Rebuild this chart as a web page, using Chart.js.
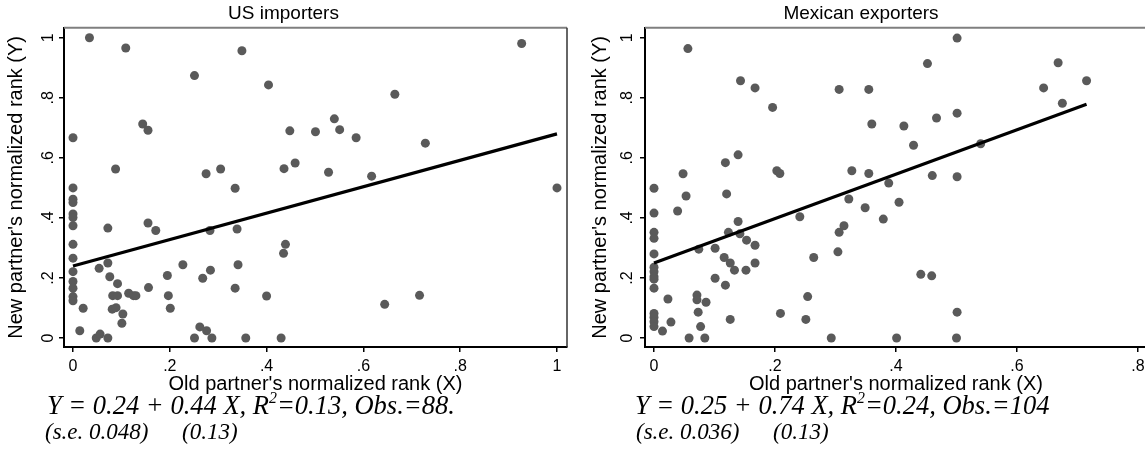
<!DOCTYPE html>
<html lang="en">
<head>
    <meta charset="UTF-8">
    <title>Old vs new partner rank</title>
    <script src="https://cdn.jsdelivr.net/npm/chart.js"></script>
    <style>
        html, body { margin: 0; padding: 0; background: #fff; overflow: hidden; }
        body { width: 1145px; height: 470px; position: relative; }
        .panel { position: absolute; top: 0; height: 400px; }
        #usChart { left: 0; width: 575px; }
        #mxChart { left: 575px; width: 580px; }
        .eq {
            position: absolute;
            font-family: 'Liberation Serif', 'Times New Roman', serif;
            font-style: italic;
            color: #000;
            white-space: pre;
        }
        .eq1 { font-size: 26.5px; top: 390px; }
        .eq2 { font-size: 23px; top: 419px; }
        .eq2 span { position: absolute; top: 0; }
        .eq sup { font-size: 60%; vertical-align: 0; position: relative; top: -0.7em; }
    </style>
</head>
<body>
    <canvas id="usChart" class="panel" width="575" height="400"></canvas>
    <canvas id="mxChart" class="panel" width="580" height="400"></canvas>

    <div class="eq eq1" style="left:47px">Y = 0.24 + 0.44 X, R<sup>2</sup>=0.13, Obs.=88.</div>
    <div class="eq eq2" style="left:45px"><span style="left:0">(s.e. 0.048)</span><span style="left:137px">(0.13)</span></div>
    <div class="eq eq1" style="left:635px">Y = 0.25 + 0.74 X, R<sup>2</sup>=0.24, Obs.=104</div>
    <div class="eq eq2" style="left:636px"><span style="left:0">(s.e. 0.036)</span><span style="left:137px">(0.13)</span></div>

    <script>
        // US importers: old partner rank (x) vs new partner rank (y)
        const usX = [0, 0, 0, 0, 0, 0, 0, 0, 0, 0, 0, 0, 0, 0,
            0.034, 0.109, 0.251, 0.349, 0.404, 0.144, 0.155, 0.448, 0.088, 0.275,
            0.305, 0.335, 0.436, 0.459, 0.927, 0.665, 0.54, 0.501, 0.551, 0.585,
            0.728, 0.528, 0.617, 1.0, 0.021, 0.014, 0.048, 0.056, 0.072, 0.054,
            0.072, 0.072, 0.076, 0.081, 0.089, 0.082, 0.092, 0.092, 0.103, 0.101,
            0.115, 0.125, 0.130, 0.155, 0.171, 0.156, 0.195, 0.197, 0.201, 0.227,
            0.251, 0.262, 0.268, 0.276, 0.283, 0.284, 0.287, 0.335, 0.339, 0.341,
            0.357, 0.4, 0.43, 0.439, 0.435, 0.644, 0.716];
        const usY = [0.667, 0.5, 0.462, 0.451, 0.413, 0.401, 0.374, 0.312, 0.266, 0.221, 0.188, 0.166, 0.138, 0.124,
            1.0, 0.966, 0.874, 0.957, 0.843, 0.713, 0.692, 0.69, 0.563, 0.547,
            0.563, 0.499, 0.564, 0.583, 0.981, 0.812, 0.73, 0.687, 0.694, 0.667,
            0.649, 0.552, 0.539, 0.5, 0.099, 0.024, 0, 0.013, 0, 0.232,
            0.366, 0.25, 0.204, 0.096, 0.101, 0.141, 0.141, 0.181, 0.08, 0.049,
            0.149, 0.141, 0.141, 0.383, 0.358, 0.168, 0.208, 0.141, 0.099, 0.244,
            0, 0.037, 0.199, 0.024, 0.358, 0.226, 0, 0.166, 0.363, 0.244,
            0, 0.14, 0, 0.312, 0.282, 0.112, 0.142];
        const usFitX = [0, 1];
        const usFitY = [0.24, 0.68];

        // Mexican exporters
        const mxX = [0, 0, 0, 0, 0, 0, 0, 0, 0, 0, 0, 0, 0, 0,
            0.056, 0.143, 0.167, 0.196, 0.139, 0.118, 0.048, 0.053, 0.12, 0.203,
            0.208, 0.306, 0.355, 0.36, 0.327, 0.355, 0.322, 0.501, 0.452, 0.668,
            0.715, 0.644, 0.675, 0.413, 0.467, 0.501, 0.429, 0.54, 0.388, 0.46,
            0.501, 0.405, 0.349, 0.379, 0.014, 0.023, 0.028, 0.039, 0.058, 0.071,
            0.071, 0.073, 0.074, 0.077, 0.084, 0.086, 0.101, 0.101, 0.116, 0.118,
            0.123, 0.126, 0.126, 0.133, 0.139, 0.142, 0.152, 0.153, 0.167, 0.167,
            0.209, 0.241, 0.251, 0.254, 0.264, 0.293, 0.304, 0.306, 0.314, 0.441,
            0.459, 0.501, 0.401, 0.5];
        const mxY = [0.499, 0.416, 0.352, 0.332, 0.28, 0.236, 0.221, 0.204, 0.196, 0.166, 0.082, 0.069, 0.054, 0.038,
            0.964, 0.857, 0.833, 0.768, 0.61, 0.584, 0.547, 0.473, 0.48, 0.557,
            0.548, 0.828, 0.828, 0.713, 0.557, 0.548, 0.463, 0.999, 0.914, 0.917,
            0.857, 0.833, 0.782, 0.706, 0.733, 0.749, 0.642, 0.647, 0.516, 0.541,
            0.537, 0.452, 0.434, 0.396, 0.023, 0.13, 0.053, 0.423, 0, 0.143,
            0.127, 0.086, 0.296, 0.038, 0, 0.119, 0.299, 0.199, 0.268, 0.176,
            0.352, 0.25, 0.062, 0.226, 0.388, 0.347, 0.226, 0.326, 0.309, 0.25,
            0.082, 0.404, 0.062, 0.138, 0.268, 0, 0.287, 0.352, 0.374, 0.212,
            0.207, 0.086, 0, 0];
        const mxFitX = [0, 0.715];
        const mxFitY = [0.25, 0.779];

        const yTicks = [0, 0.2, 0.4, 0.6, 0.8, 1];
        const yTickLabels = ['0', '.2', '.4', '.6', '.8', '1'];
        const usXTicks = [0, 0.2, 0.4, 0.6, 0.8, 1];
        const usXTickLabels = ['0', '.2', '.4', '.6', '.8', '1'];
        const mxXTicks = [0, 0.2, 0.4, 0.6, 0.8];
        const mxXTickLabels = ['0', '.2', '.4', '.6', '.8'];

        Chart.defaults.font.family = "'Liberation Sans', Arial, Helvetica, sans-serif";
        Chart.defaults.color = '#000';

        // top and right edges of the plot region
        const frame = {
            id: 'frame',
            afterDraw(chart) {
                const { ctx, chartArea: a } = chart;
                ctx.save();
                ctx.strokeStyle = '#7f7f7f';
                ctx.lineWidth = 2;
                ctx.beginPath();
                ctx.moveTo(a.left, a.top);
                ctx.lineTo(a.right, a.top);
                ctx.stroke();
                ctx.strokeStyle = '#333';
                ctx.lineWidth = 1.5;
                ctx.beginPath();
                ctx.moveTo(a.right, a.top);
                ctx.lineTo(a.right, a.bottom);
                ctx.stroke();
                ctx.restore();
            }
        };

        function toPoints(xs, ys) {
            return xs.map((x, i) => ({ x: x, y: ys[i] }));
        }

        function makePanel(id, p) {
            const ctx = document.getElementById(id).getContext('2d');
            return new Chart(ctx, {
                type: 'scatter',
                data: {
                    datasets: [{
                        data: toPoints(p.fitX, p.fitY),
                        showLine: true,
                        borderColor: '#000',
                        borderWidth: 3.2,
                        pointRadius: 0
                    }, {
                        data: toPoints(p.x, p.y),
                        pointRadius: 4.5,
                        pointBackgroundColor: '#5a5a5a',
                        pointBorderWidth: 0
                    }]
                },
                options: {
                    responsive: false,
                    animation: false,
                    clip: false,
                    layout: { padding: { left: 0, right: 8, top: 0, bottom: 0 } },
                    plugins: {
                        legend: { display: false },
                        tooltip: { enabled: false },
                        title: {
                            display: true,
                            text: p.title,
                            font: { size: 19, weight: 'normal' },
                            color: '#000',
                            padding: { top: 2, bottom: 3 }
                        }
                    },
                    scales: {
                        x: {
                            type: 'linear',
                            min: p.xMin,
                            max: p.xMax,
                            afterBuildTicks: s => { s.ticks = p.xTicks.map(v => ({ value: v })); },
                            afterFit: s => { s.height = 53; },
                            ticks: {
                                callback: v => p.xTickLabels[p.xTicks.indexOf(v)],
                                font: { size: 16 },
                                color: '#000',
                                padding: 5,
                                maxRotation: 0
                            },
                            grid: { drawOnChartArea: false, drawTicks: true, tickLength: 5, color: '#000', lineWidth: 1.5 },
                            border: { color: '#000', width: 2 },
                            title: {
                                display: true,
                                text: "Old partner's normalized rank (X)",
                                font: { size: 20 },
                                color: '#000',
                                padding: { top: 0, bottom: 3.5 }
                            }
                        },
                        y: {
                            type: 'linear',
                            min: -0.03,
                            max: 1.0333,
                            afterBuildTicks: s => { s.ticks = yTicks.map(v => ({ value: v })); },
                            afterFit: s => { s.width = p.yWidth; },
                            ticks: {
                                callback: v => yTickLabels[yTicks.indexOf(v)],
                                font: { size: 16 },
                                color: '#000',
                                minRotation: 90,
                                maxRotation: 90,
                                crossAlign: 'center',
                                padding: p.yTickPad
                            },
                            grid: { drawOnChartArea: false, drawTicks: true, tickLength: 5, color: '#000', lineWidth: 1.5 },
                            border: { color: '#000', width: 2 },
                            title: {
                                display: true,
                                text: "New partner's normalized rank (Y)",
                                font: { size: 20 },
                                color: '#000',
                                padding: { top: p.yTitlePad, bottom: 0 }
                            }
                        }
                    }
                },
                plugins: [frame]
            });
        }

        makePanel('usChart', {
            title: 'US importers',
            x: usX, y: usY, fitX: usFitX, fitY: usFitY,
            xMin: -0.0186, xMax: 1.0207,
            xTicks: usXTicks, xTickLabels: usXTickLabels,
            yWidth: 64, yTickPad: 3.5, yTitlePad: 4
        });

        makePanel('mxChart', {
            title: 'Mexican exporters',
            x: mxX, y: mxY, fitX: mxFitX, fitY: mxFitY,
            xMin: -0.0149, xMax: 0.8149,
            xTicks: mxXTicks, xTickLabels: mxXTickLabels,
            yWidth: 70, yTickPad: 5.5, yTitlePad: 13
        });
    </script>
</body>
</html>
